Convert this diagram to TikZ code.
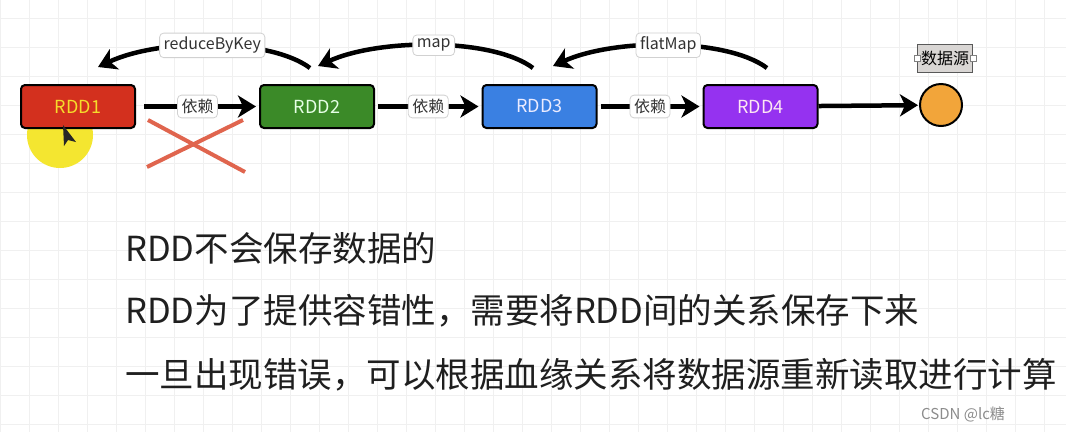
\documentclass[tikz,border=0pt]{standalone}
\usepackage{fontspec}
\setmainfont{Noto Sans CJK SC}
\usetikzlibrary{arrows.meta}
\definecolor{rddred}{HTML}{D3301E}
\definecolor{rddgreen}{HTML}{3B8A28}
\definecolor{rddblue}{HTML}{3A80E2}
\definecolor{rddpurple}{HTML}{9532F0}
\definecolor{srcorange}{HTML}{F2A53A}
\definecolor{hiyellow}{HTML}{F4E630}
\definecolor{crossred}{HTML}{E0654E}
\definecolor{tagfill}{HTML}{D9D6D4}
\begin{document}
\begin{tikzpicture}[x=1pt,y=-1pt]
        \tikzstyle{gridline}=[draw=black!6,line width=0.8pt]
        \tikzstyle{rdd}=[draw=black,line width=2pt,rounded corners=4pt,minimum width=114pt,minimum height=43pt,font=\fontsize{18}{20}\selectfont]
        \tikzstyle{dep}=[line width=4.5pt,-{Stealth[length=18pt,width=22pt,inset=5pt]}]
        \tikzstyle{lbl}=[fill=white,draw=black!18,line width=0.8pt,rounded corners=4pt,inner sep=4pt,text=black!80,font=\fontsize{16}{18}\selectfont]
        \tikzstyle{says}=[anchor=west,inner sep=0pt,text=black!88,font=\fontsize{34.5}{40}\selectfont]
        \useasboundingbox (0,0) rectangle (1066,432);
        \fill[white] (0,0) rectangle (1066,432);
        \foreach \gx in {0,29,...,1066} \draw[gridline] (\gx,0) -- (\gx,432);
        \foreach \gy in {18,47,...,432} \draw[gridline] (0,\gy) -- (1066,\gy);
        \fill[hiyellow] (60,135) circle (33);
        \node[rdd,fill=rddred,text=hiyellow!90!orange] (rdd1) at (78,106.5) {RDD1};
        \node[rdd,fill=rddgreen,text=white!90!green] (rdd2) at (317,106.5) {RDD2};
        \node[rdd,fill=rddblue,text=white!92!blue] (rdd3) at (539.5,106.5) {RDD3};
        \node[rdd,fill=rddpurple,text=white!90!magenta] (rdd4) at (760.5,106.5) {RDD4};
        \node[circle,draw=black,line width=2pt,fill=srcorange,minimum size=42pt,inner sep=0pt] (src) at (941,105) {};
        \node[draw=black!65,line width=0.8pt,fill=tagfill,minimum width=55pt,minimum height=28pt,inner sep=0pt,font=\fontsize{16}{18}\selectfont] (srctag) at (945,58) {数据源};
        \node[draw=black!50,fill=white,line width=0.6pt,minimum size=6pt,inner sep=0pt] (hdl) at (srctag.west) {};
        \node[draw=black!50,fill=white,line width=0.6pt,minimum size=6pt,inner sep=0pt] (hdr) at (srctag.east) {};
        \fill[black!85] (63,125) -- (64,146) -- (68,140) -- (76,142) -- cycle;
        \draw[dep,shorten <=8pt,shorten >=3pt] (rdd1) -- node[lbl] (d1) {依赖} (rdd2);
        \draw[dep,shorten <=3pt,shorten >=3pt] (rdd2) -- node[lbl] (d2) {依赖} (rdd3);
        \draw[dep,shorten <=3pt,shorten >=3pt] (rdd3) -- node[lbl] (d3) {依赖} (rdd4);
        \draw[dep,shorten >=1pt] (rdd4) -- (src);
        \coordinate (rbkfrom) at (310,68);
        \coordinate (rbkto) at (98,67);
        \coordinate (mapfrom) at (533,68);
        \coordinate (mapto) at (318,66);
        \coordinate (fmfrom) at (767,68);
        \coordinate (fmto) at (553,66);
        \draw[dep] (rbkfrom) .. controls (270,38) and (160,38) .. node[lbl] (rbk) {reduceByKey} (rbkto);
        \draw[dep] (mapfrom) .. controls (493,38) and (380,38) .. node[lbl] (mp) {map} (mapto);
        \draw[dep] (fmfrom) .. controls (727,38) and (615,38) .. node[lbl] (fm) {flatMap} (fmto);
        \draw[crossred,line width=4pt] (148,120) -- (245,172);
        \draw[crossred,line width=4pt] (147,167) -- (243,120);
        \node[says] (say1) at (125,248) {RDD不会保存数据的};
        \node[says] (say2) at (125,311) {RDD为了提供容错性，需要将RDD间的关系保存下来};
        \node[says] (say3) at (125,375) {一旦出现错误，可以根据血缘关系将数据源重新读取进行计算};
        \node[anchor=west,inner sep=0pt,text=black!45,font=\fontsize{15}{18}\selectfont] (mark) at (921,414) {CSDN @lc糖};
\end{tikzpicture}
\end{document}
